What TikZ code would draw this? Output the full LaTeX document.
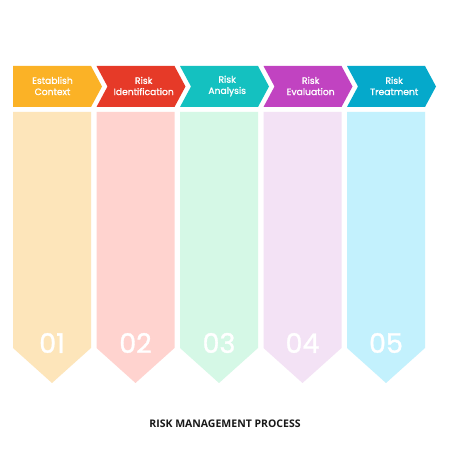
\documentclass[tikz,border=0pt]{standalone}
\usepackage{fontspec}
\setmainfont{Poppins}
\newfontfamily\medfont{Poppins}[FakeBold=1.2]
\newfontfamily\titlefont{Open Sans}
\definecolor{orgA}{HTML}{FBB226}
\definecolor{orgB}{HTML}{FDE5BA}
\definecolor{redA}{HTML}{E63A28}
\definecolor{redB}{HTML}{FFD3CF}
\definecolor{tealA}{HTML}{14C1C0}
\definecolor{tealB}{HTML}{D5F8E6}
\definecolor{purA}{HTML}{C143C1}
\definecolor{purB}{HTML}{F3E2F5}
\definecolor{bluA}{HTML}{05A9CB}
\definecolor{bluB}{HTML}{C3F1FD}
\tikzset{
  hdrtext/.style={text=white, align=center, font=\medfont\fontsize{9.2}{11.2}\selectfont, inner sep=0pt},
  numtext/.style={text=white, font=\medfont\fontsize{27}{30}\selectfont, inner sep=0pt},
  titletext/.style={text=black!90, font=\titlefont\bfseries\fontsize{10.5}{12}\selectfont, inner sep=0pt}
}
\begin{document}
\begin{tikzpicture}[x=1pt,y=1pt]
\useasboundingbox (0,0) rectangle (450,450);
\fill[white] (0,0) rectangle (450,450);
\foreach \i/\ca/\cb/\txt/\num in {0/orgA/orgB/{Establish\\Context}/01,1/redA/redB/{Risk\\Identification}/02,2/tealA/tealB/{Risk\\Analysis}/03,3/purA/purB/{Risk\\Evaluation}/04,4/bluA/bluB/{Risk\\Treatment}/05}{
  \pgfmathsetmacro\xl{13+83.5*\i}
  \pgfmathsetmacro\nd{\i==0?0:11}
  \fill[\cb] (\xl,338) -- (\xl+78,338) -- (\xl+78,102) -- (\xl+39,67) -- (\xl,102) -- cycle;
  \fill[\ca] (\xl,384) -- (\xl+78,384) -- (\xl+89,363.5) -- (\xl+78,343) -- (\xl,343) -- (\xl+\nd,363.5) -- cycle;
  \node[hdrtext] (h\i) at (\xl+39.5+0.7*\nd,364) {\txt};
  \node[numtext] (n\i) at (\xl+39,107) {\num};
}
\node[titletext] (title) at (225,26) {RISK MANAGEMENT PROCESS};
\end{tikzpicture}
\end{document}
